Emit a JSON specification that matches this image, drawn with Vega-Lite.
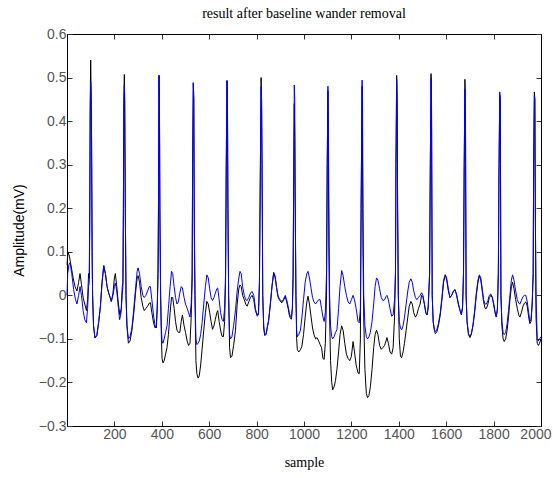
{
  "$schema": "https://vega.github.io/schema/vega-lite/v6.json",
  "width": 474,
  "height": 392,
  "autosize": "none",
  "padding": {"left": 67, "top": 34, "right": 12, "bottom": 52},
  "background": "white",
  "title": {"text": "result after baseline wander removal", "font": "Liberation Serif", "fontSize": 14, "fontWeight": "normal", "color": "#000", "offset": 6},
  "config": {
    "view": {"stroke": "#000", "strokeWidth": 1},
    "axis": {"grid": false, "domainColor": "#000", "tickColor": "#333", "tickSize": -5, "labelFont": "Liberation Sans", "labelFontSize": 14, "labelColor": "#555", "titleColor": "#000", "titleFontWeight": "normal", "labelOverlap": false, "labelBound": false}
  },
  "datasets": {
    "black": [
      {"sample":0,"mV":0.07},{"sample":4,"mV":0.10},{"sample":10,"mV":0.09},{"sample":18,"mV":0.065},{"sample":26,"mV":0.04},{"sample":34,"mV":0.02},{"sample":42,"mV":0.01},{"sample":49,"mV":0.03},{"sample":55,"mV":0.05},{"sample":61,"mV":0.025},{"sample":68,"mV":-0.005},{"sample":75,"mV":-0.02},{"sample":82,"mV":-0.035},{"sample":87,"mV":-0.01},{"sample":91,"mV":0.05},{"sample":94,"mV":0.04},
      {"sample":96,"mV":0.2},{"sample":98,"mV":0.45},{"sample":100,"mV":0.54},{"sample":102,"mV":0.45},{"sample":104,"mV":0.35},{"sample":106,"mV":0.1},{"sample":108,"mV":0.0},{"sample":112,"mV":-0.07},{"sample":118,"mV":-0.098},{"sample":126,"mV":-0.092},{"sample":134,"mV":-0.06},{"sample":141,"mV":-0.025},{"sample":148,"mV":0.03},{"sample":155,"mV":0.068},{"sample":162,"mV":0.05},{"sample":169,"mV":0.02},{"sample":176,"mV":0.005},{"sample":182,"mV":-0.005},{"sample":187,"mV":-0.014},{"sample":194,"mV":0.005},{"sample":200,"mV":0.04},{"sample":204,"mV":0.05},{"sample":210,"mV":0.02},{"sample":217,"mV":-0.02},{"sample":223,"mV":-0.045},{"sample":229,"mV":-0.03},{"sample":233,"mV":0.02},{"sample":236,"mV":0.03},
      {"sample":238,"mV":0.2},{"sample":240,"mV":0.45},{"sample":242,"mV":0.507},{"sample":244,"mV":0.37},{"sample":246,"mV":0.2},{"sample":249,"mV":0.0},{"sample":253,"mV":-0.07},{"sample":259,"mV":-0.11},{"sample":266,"mV":-0.105},{"sample":274,"mV":-0.08},{"sample":282,"mV":-0.04},{"sample":290,"mV":0.01},{"sample":296,"mV":0.04},{"sample":300,"mV":0.045},{"sample":306,"mV":0.03},{"sample":313,"mV":-0.005},{"sample":320,"mV":-0.025},{"sample":326,"mV":-0.035},{"sample":333,"mV":-0.03},{"sample":340,"mV":-0.025},{"sample":347,"mV":-0.018},{"sample":352,"mV":-0.017},{"sample":358,"mV":-0.04},{"sample":366,"mV":-0.065},{"sample":372,"mV":-0.075},{"sample":377,"mV":-0.07},{"sample":381,"mV":-0.02},{"sample":384,"mV":0.05},
      {"sample":386,"mV":0.2},{"sample":388,"mV":0.505},{"sample":390,"mV":0.45},{"sample":392,"mV":0.18},{"sample":395,"mV":0.0},{"sample":398,"mV":-0.09},{"sample":401,"mV":-0.145},{"sample":405,"mV":-0.155},{"sample":410,"mV":-0.15},{"sample":416,"mV":-0.135},{"sample":422,"mV":-0.12},{"sample":428,"mV":-0.09},{"sample":435,"mV":-0.04},{"sample":441,"mV":-0.005},{"sample":446,"mV":-0.005},{"sample":452,"mV":-0.03},{"sample":458,"mV":-0.06},{"sample":464,"mV":-0.08},{"sample":470,"mV":-0.085},{"sample":476,"mV":-0.085},{"sample":482,"mV":-0.06},{"sample":487,"mV":-0.045},{"sample":494,"mV":-0.07},{"sample":500,"mV":-0.085},{"sample":507,"mV":-0.105},{"sample":513,"mV":-0.115},{"sample":519,"mV":-0.11},{"sample":524,"mV":-0.05},{"sample":528,"mV":0.03},
      {"sample":530,"mV":0.3},{"sample":533,"mV":0.488},{"sample":535,"mV":0.45},{"sample":537,"mV":0.15},{"sample":540,"mV":0.0},{"sample":544,"mV":-0.15},{"sample":548,"mV":-0.18},{"sample":553,"mV":-0.19},{"sample":558,"mV":-0.185},{"sample":564,"mV":-0.16},{"sample":570,"mV":-0.124},{"sample":577,"mV":-0.08},{"sample":584,"mV":-0.04},{"sample":590,"mV":-0.014},{"sample":596,"mV":-0.02},{"sample":602,"mV":-0.04},{"sample":608,"mV":-0.06},{"sample":614,"mV":-0.078},{"sample":620,"mV":-0.07},{"sample":626,"mV":-0.055},{"sample":632,"mV":-0.04},{"sample":636,"mV":-0.035},{"sample":642,"mV":-0.06},{"sample":648,"mV":-0.08},{"sample":654,"mV":-0.094},{"sample":660,"mV":-0.095},{"sample":665,"mV":-0.06},{"sample":669,"mV":0.03},
      {"sample":672,"mV":0.3},{"sample":675,"mV":0.493},{"sample":677,"mV":0.45},{"sample":679,"mV":0.2},{"sample":682,"mV":0.0},{"sample":686,"mV":-0.12},{"sample":690,"mV":-0.143},{"sample":696,"mV":-0.14},{"sample":703,"mV":-0.115},{"sample":711,"mV":-0.08},{"sample":718,"mV":-0.02},{"sample":725,"mV":0.015},{"sample":730,"mV":0.024},{"sample":735,"mV":0.02},{"sample":741,"mV":0.0},{"sample":748,"mV":-0.01},{"sample":754,"mV":-0.02},{"sample":760,"mV":-0.025},{"sample":767,"mV":-0.015},{"sample":774,"mV":-0.005},{"sample":781,"mV":0.0},{"sample":788,"mV":-0.01},{"sample":795,"mV":-0.035},{"sample":802,"mV":-0.045},{"sample":808,"mV":-0.04},{"sample":812,"mV":0.03},
      {"sample":816,"mV":0.3},{"sample":819,"mV":0.50},{"sample":821,"mV":0.45},{"sample":823,"mV":0.29},{"sample":826,"mV":0.0},{"sample":830,"mV":-0.075},{"sample":834,"mV":-0.092},{"sample":840,"mV":-0.09},{"sample":846,"mV":-0.072},{"sample":851,"mV":-0.058},{"sample":858,"mV":-0.02},{"sample":865,"mV":0.02},{"sample":872,"mV":0.05},{"sample":878,"mV":0.042},{"sample":884,"mV":0.018},{"sample":890,"mV":-0.003},{"sample":896,"mV":-0.01},{"sample":902,"mV":-0.015},{"sample":907,"mV":-0.017},{"sample":913,"mV":-0.012},{"sample":918,"mV":-0.006},{"sample":921,"mV":-0.003},{"sample":927,"mV":-0.015},{"sample":933,"mV":-0.03},{"sample":938,"mV":-0.045},{"sample":942,"mV":-0.052},{"sample":947,"mV":-0.055},{"sample":951,"mV":-0.03},{"sample":954,"mV":0.04},
      {"sample":957,"mV":0.3},{"sample":959,"mV":0.44},{"sample":961,"mV":0.36},{"sample":963,"mV":0.2},{"sample":966,"mV":0.0},{"sample":969,"mV":-0.1},{"sample":972,"mV":-0.125},{"sample":978,"mV":-0.13},{"sample":985,"mV":-0.125},{"sample":991,"mV":-0.117},{"sample":998,"mV":-0.09},{"sample":1005,"mV":-0.05},{"sample":1012,"mV":-0.015},{"sample":1017,"mV":-0.002},{"sample":1023,"mV":-0.02},{"sample":1030,"mV":-0.05},{"sample":1036,"mV":-0.075},{"sample":1042,"mV":-0.09},{"sample":1049,"mV":-0.1},{"sample":1055,"mV":-0.097},{"sample":1062,"mV":-0.105},{"sample":1068,"mV":-0.113},{"sample":1074,"mV":-0.12},{"sample":1080,"mV":-0.145},{"sample":1085,"mV":-0.147},{"sample":1090,"mV":-0.11},{"sample":1095,"mV":0.0},
      {"sample":1098,"mV":0.3},{"sample":1101,"mV":0.47},{"sample":1103,"mV":0.3},{"sample":1105,"mV":0.1},{"sample":1108,"mV":-0.05},{"sample":1112,"mV":-0.15},{"sample":1117,"mV":-0.2},{"sample":1121,"mV":-0.217},{"sample":1127,"mV":-0.21},{"sample":1133,"mV":-0.195},{"sample":1139,"mV":-0.17},{"sample":1146,"mV":-0.13},{"sample":1152,"mV":-0.09},{"sample":1159,"mV":-0.07},{"sample":1165,"mV":-0.08},{"sample":1172,"mV":-0.11},{"sample":1179,"mV":-0.135},{"sample":1186,"mV":-0.145},{"sample":1193,"mV":-0.15},{"sample":1200,"mV":-0.14},{"sample":1207,"mV":-0.106},{"sample":1213,"mV":-0.13},{"sample":1220,"mV":-0.16},{"sample":1228,"mV":-0.178},{"sample":1233,"mV":-0.18},{"sample":1238,"mV":-0.1},
      {"sample":1241,"mV":0.2},{"sample":1245,"mV":0.48},{"sample":1247,"mV":0.3},{"sample":1249,"mV":0.1},{"sample":1252,"mV":-0.05},{"sample":1257,"mV":-0.17},{"sample":1263,"mV":-0.225},{"sample":1268,"mV":-0.235},{"sample":1274,"mV":-0.23},{"sample":1280,"mV":-0.21},{"sample":1287,"mV":-0.17},{"sample":1294,"mV":-0.12},{"sample":1300,"mV":-0.09},{"sample":1306,"mV":-0.08},{"sample":1312,"mV":-0.09},{"sample":1319,"mV":-0.115},{"sample":1326,"mV":-0.124},{"sample":1333,"mV":-0.12},{"sample":1340,"mV":-0.115},{"sample":1346,"mV":-0.105},{"sample":1350,"mV":-0.097},{"sample":1356,"mV":-0.11},{"sample":1363,"mV":-0.13},{"sample":1370,"mV":-0.135},{"sample":1376,"mV":-0.12},{"sample":1382,"mV":-0.05},{"sample":1386,"mV":0.05},
      {"sample":1388,"mV":0.3},{"sample":1391,"mV":0.505},{"sample":1393,"mV":0.45},{"sample":1395,"mV":0.2},{"sample":1398,"mV":0.0},{"sample":1402,"mV":-0.1},{"sample":1407,"mV":-0.14},{"sample":1412,"mV":-0.143},{"sample":1418,"mV":-0.13},{"sample":1424,"mV":-0.11},{"sample":1431,"mV":-0.08},{"sample":1438,"mV":-0.05},{"sample":1444,"mV":-0.025},{"sample":1451,"mV":-0.014},{"sample":1457,"mV":-0.02},{"sample":1463,"mV":-0.04},{"sample":1470,"mV":-0.05},{"sample":1476,"mV":-0.045},{"sample":1483,"mV":-0.03},{"sample":1490,"mV":-0.02},{"sample":1496,"mV":0.0},{"sample":1502,"mV":-0.005},{"sample":1508,"mV":-0.02},{"sample":1514,"mV":-0.04},{"sample":1519,"mV":-0.045},{"sample":1524,"mV":-0.03},{"sample":1530,"mV":0.05},
      {"sample":1533,"mV":0.3},{"sample":1536,"mV":0.509},{"sample":1538,"mV":0.45},{"sample":1541,"mV":0.0},{"sample":1545,"mV":-0.06},{"sample":1550,"mV":-0.08},{"sample":1554,"mV":-0.088},{"sample":1560,"mV":-0.085},{"sample":1567,"mV":-0.07},{"sample":1575,"mV":-0.045},{"sample":1582,"mV":-0.01},{"sample":1589,"mV":0.03},{"sample":1596,"mV":0.047},{"sample":1602,"mV":0.035},{"sample":1609,"mV":0.01},{"sample":1616,"mV":-0.005},{"sample":1623,"mV":0.0},{"sample":1630,"mV":0.008},{"sample":1637,"mV":0.013},{"sample":1644,"mV":0.0},{"sample":1651,"mV":-0.02},{"sample":1658,"mV":-0.035},{"sample":1664,"mV":-0.045},{"sample":1669,"mV":-0.03},{"sample":1673,"mV":0.05},
      {"sample":1676,"mV":0.3},{"sample":1679,"mV":0.496},{"sample":1681,"mV":0.45},{"sample":1684,"mV":0.0},{"sample":1688,"mV":-0.06},{"sample":1694,"mV":-0.09},{"sample":1700,"mV":-0.097},{"sample":1706,"mV":-0.09},{"sample":1713,"mV":-0.07},{"sample":1720,"mV":-0.04},{"sample":1727,"mV":0.0},{"sample":1734,"mV":0.03},{"sample":1740,"mV":0.045},{"sample":1746,"mV":0.035},{"sample":1752,"mV":0.01},{"sample":1758,"mV":-0.015},{"sample":1764,"mV":-0.03},{"sample":1770,"mV":-0.03},{"sample":1776,"mV":-0.02},{"sample":1782,"mV":-0.005},{"sample":1788,"mV":0.0},{"sample":1794,"mV":-0.005},{"sample":1800,"mV":-0.02},{"sample":1806,"mV":-0.04},{"sample":1811,"mV":-0.05},{"sample":1816,"mV":-0.035},{"sample":1820,"mV":0.05},
      {"sample":1823,"mV":0.3},{"sample":1826,"mV":0.46},{"sample":1828,"mV":0.45},{"sample":1831,"mV":0.0},{"sample":1835,"mV":-0.07},{"sample":1840,"mV":-0.1},{"sample":1845,"mV":-0.106},{"sample":1851,"mV":-0.1},{"sample":1857,"mV":-0.08},{"sample":1863,"mV":-0.05},{"sample":1869,"mV":-0.01},{"sample":1875,"mV":0.02},{"sample":1880,"mV":0.03},{"sample":1886,"mV":0.015},{"sample":1893,"mV":-0.01},{"sample":1900,"mV":-0.03},{"sample":1906,"mV":-0.045},{"sample":1911,"mV":-0.05},{"sample":1917,"mV":-0.04},{"sample":1924,"mV":-0.025},{"sample":1930,"mV":-0.018},{"sample":1936,"mV":-0.015},{"sample":1942,"mV":-0.025},{"sample":1948,"mV":-0.05},{"sample":1953,"mV":-0.065},{"sample":1958,"mV":-0.06},{"sample":1963,"mV":-0.02},{"sample":1967,"mV":0.05},
      {"sample":1969,"mV":0.3},{"sample":1972,"mV":0.467},{"sample":1974,"mV":0.45},{"sample":1976,"mV":0.2},{"sample":1979,"mV":-0.05},{"sample":1984,"mV":-0.11},{"sample":1989,"mV":-0.115},{"sample":1994,"mV":-0.11},{"sample":2000,"mV":-0.1}
    ],
    "blue": [
      {"sample":0,"mV":0.0},{"sample":3,"mV":0.05},{"sample":8,"mV":0.07},{"sample":13,"mV":0.075},{"sample":20,"mV":0.05},{"sample":28,"mV":0.013},{"sample":36,"mV":-0.01},{"sample":42,"mV":-0.02},{"sample":49,"mV":0.0},{"sample":55,"mV":0.02},{"sample":61,"mV":0.0},{"sample":68,"mV":-0.035},{"sample":75,"mV":-0.056},{"sample":82,"mV":-0.063},{"sample":87,"mV":-0.03},{"sample":91,"mV":0.02},{"sample":94,"mV":0.03},
      {"sample":96,"mV":0.15},{"sample":98,"mV":0.42},{"sample":100,"mV":0.49},{"sample":102,"mV":0.46},{"sample":104,"mV":0.3},{"sample":106,"mV":0.1},{"sample":108,"mV":0.0},{"sample":112,"mV":-0.07},{"sample":118,"mV":-0.098},{"sample":126,"mV":-0.092},{"sample":134,"mV":-0.06},{"sample":141,"mV":-0.025},{"sample":148,"mV":0.03},{"sample":155,"mV":0.068},{"sample":162,"mV":0.05},{"sample":169,"mV":0.02},{"sample":176,"mV":0.005},{"sample":182,"mV":-0.005},{"sample":187,"mV":-0.014},{"sample":194,"mV":0.0},{"sample":200,"mV":0.02},{"sample":204,"mV":0.028},{"sample":210,"mV":0.01},{"sample":217,"mV":-0.03},{"sample":222,"mV":-0.056},{"sample":228,"mV":-0.04},{"sample":233,"mV":0.0},{"sample":236,"mV":0.02},
      {"sample":238,"mV":0.2},{"sample":240,"mV":0.45},{"sample":242,"mV":0.483},{"sample":244,"mV":0.45},{"sample":246,"mV":0.2},{"sample":249,"mV":0.0},{"sample":253,"mV":-0.07},{"sample":259,"mV":-0.1},{"sample":266,"mV":-0.095},{"sample":274,"mV":-0.075},{"sample":282,"mV":-0.03},{"sample":290,"mV":0.02},{"sample":296,"mV":0.055},{"sample":300,"mV":0.063},{"sample":306,"mV":0.05},{"sample":313,"mV":0.02},{"sample":320,"mV":0.0},{"sample":326,"mV":-0.005},{"sample":333,"mV":0.0},{"sample":340,"mV":0.01},{"sample":347,"mV":0.02},{"sample":352,"mV":0.02},{"sample":358,"mV":-0.01},{"sample":366,"mV":-0.05},{"sample":372,"mV":-0.07},{"sample":377,"mV":-0.075},{"sample":381,"mV":-0.03},{"sample":384,"mV":0.05},
      {"sample":386,"mV":0.2},{"sample":388,"mV":0.505},{"sample":390,"mV":0.45},{"sample":392,"mV":0.2},{"sample":395,"mV":0.0},{"sample":398,"mV":-0.07},{"sample":401,"mV":-0.105},{"sample":405,"mV":-0.11},{"sample":410,"mV":-0.1},{"sample":416,"mV":-0.085},{"sample":422,"mV":-0.07},{"sample":428,"mV":-0.03},{"sample":435,"mV":0.02},{"sample":441,"mV":0.055},{"sample":446,"mV":0.05},{"sample":452,"mV":0.02},{"sample":458,"mV":-0.005},{"sample":464,"mV":-0.02},{"sample":470,"mV":-0.015},{"sample":476,"mV":0.005},{"sample":482,"mV":0.02},{"sample":487,"mV":0.017},{"sample":494,"mV":-0.005},{"sample":500,"mV":-0.02},{"sample":507,"mV":-0.03},{"sample":513,"mV":-0.04},{"sample":519,"mV":-0.05},{"sample":524,"mV":-0.02},{"sample":528,"mV":0.05},
      {"sample":530,"mV":0.3},{"sample":533,"mV":0.488},{"sample":535,"mV":0.45},{"sample":537,"mV":0.2},{"sample":540,"mV":0.0},{"sample":544,"mV":-0.1},{"sample":548,"mV":-0.113},{"sample":553,"mV":-0.11},{"sample":558,"mV":-0.105},{"sample":564,"mV":-0.09},{"sample":570,"mV":-0.063},{"sample":577,"mV":-0.02},{"sample":584,"mV":0.02},{"sample":590,"mV":0.047},{"sample":596,"mV":0.04},{"sample":602,"mV":0.015},{"sample":608,"mV":-0.005},{"sample":614,"mV":-0.012},{"sample":620,"mV":-0.005},{"sample":626,"mV":0.005},{"sample":632,"mV":0.015},{"sample":636,"mV":0.017},{"sample":642,"mV":-0.01},{"sample":648,"mV":-0.04},{"sample":654,"mV":-0.055},{"sample":660,"mV":-0.06},{"sample":665,"mV":-0.03},{"sample":669,"mV":0.05},
      {"sample":672,"mV":0.3},{"sample":675,"mV":0.493},{"sample":677,"mV":0.45},{"sample":679,"mV":0.2},{"sample":682,"mV":0.0},{"sample":686,"mV":-0.09},{"sample":690,"mV":-0.1},{"sample":696,"mV":-0.095},{"sample":703,"mV":-0.07},{"sample":711,"mV":-0.033},{"sample":718,"mV":0.01},{"sample":725,"mV":0.04},{"sample":730,"mV":0.055},{"sample":735,"mV":0.05},{"sample":741,"mV":0.02},{"sample":748,"mV":0.0},{"sample":754,"mV":-0.01},{"sample":760,"mV":-0.012},{"sample":767,"mV":-0.005},{"sample":774,"mV":0.005},{"sample":781,"mV":0.009},{"sample":788,"mV":0.0},{"sample":795,"mV":-0.03},{"sample":802,"mV":-0.048},{"sample":808,"mV":-0.045},{"sample":812,"mV":0.03},
      {"sample":816,"mV":0.3},{"sample":819,"mV":0.479},{"sample":821,"mV":0.45},{"sample":823,"mV":0.3},{"sample":826,"mV":0.0},{"sample":830,"mV":-0.07},{"sample":834,"mV":-0.09},{"sample":840,"mV":-0.088},{"sample":846,"mV":-0.07},{"sample":851,"mV":-0.056},{"sample":858,"mV":-0.02},{"sample":865,"mV":0.022},{"sample":872,"mV":0.053},{"sample":878,"mV":0.045},{"sample":884,"mV":0.02},{"sample":890,"mV":0.0},{"sample":896,"mV":-0.008},{"sample":902,"mV":-0.012},{"sample":907,"mV":-0.014},{"sample":913,"mV":-0.01},{"sample":918,"mV":-0.003},{"sample":921,"mV":0.0},{"sample":927,"mV":-0.01},{"sample":933,"mV":-0.025},{"sample":938,"mV":-0.04},{"sample":942,"mV":-0.048},{"sample":947,"mV":-0.05},{"sample":951,"mV":-0.03},{"sample":954,"mV":0.05},
      {"sample":957,"mV":0.3},{"sample":959,"mV":0.483},{"sample":961,"mV":0.45},{"sample":963,"mV":0.2},{"sample":966,"mV":0.0},{"sample":969,"mV":-0.08},{"sample":972,"mV":-0.095},{"sample":978,"mV":-0.09},{"sample":985,"mV":-0.08},{"sample":991,"mV":-0.052},{"sample":998,"mV":-0.01},{"sample":1005,"mV":0.03},{"sample":1012,"mV":0.05},{"sample":1017,"mV":0.055},{"sample":1023,"mV":0.04},{"sample":1030,"mV":0.015},{"sample":1036,"mV":-0.005},{"sample":1042,"mV":-0.015},{"sample":1049,"mV":-0.02},{"sample":1055,"mV":-0.015},{"sample":1062,"mV":-0.01},{"sample":1068,"mV":-0.01},{"sample":1074,"mV":-0.03},{"sample":1080,"mV":-0.05},{"sample":1085,"mV":-0.06},{"sample":1090,"mV":-0.04},{"sample":1095,"mV":0.05},
      {"sample":1098,"mV":0.3},{"sample":1101,"mV":0.48},{"sample":1103,"mV":0.4},{"sample":1105,"mV":0.2},{"sample":1108,"mV":0.0},{"sample":1112,"mV":-0.07},{"sample":1117,"mV":-0.095},{"sample":1121,"mV":-0.1},{"sample":1127,"mV":-0.095},{"sample":1133,"mV":-0.085},{"sample":1139,"mV":-0.079},{"sample":1146,"mV":-0.03},{"sample":1152,"mV":0.02},{"sample":1159,"mV":0.057},{"sample":1165,"mV":0.045},{"sample":1172,"mV":0.02},{"sample":1179,"mV":0.0},{"sample":1186,"mV":-0.015},{"sample":1193,"mV":-0.02},{"sample":1200,"mV":-0.01},{"sample":1207,"mV":0.0},{"sample":1213,"mV":-0.01},{"sample":1220,"mV":-0.03},{"sample":1228,"mV":-0.06},{"sample":1233,"mV":-0.063},{"sample":1238,"mV":-0.03},
      {"sample":1241,"mV":0.2},{"sample":1245,"mV":0.494},{"sample":1247,"mV":0.45},{"sample":1249,"mV":0.2},{"sample":1252,"mV":0.0},{"sample":1257,"mV":-0.07},{"sample":1263,"mV":-0.095},{"sample":1268,"mV":-0.1},{"sample":1274,"mV":-0.095},{"sample":1280,"mV":-0.085},{"sample":1287,"mV":-0.06},{"sample":1294,"mV":-0.02},{"sample":1300,"mV":0.02},{"sample":1306,"mV":0.04},{"sample":1312,"mV":0.035},{"sample":1319,"mV":0.015},{"sample":1326,"mV":-0.005},{"sample":1333,"mV":-0.012},{"sample":1340,"mV":-0.01},{"sample":1346,"mV":-0.003},{"sample":1350,"mV":0.0},{"sample":1356,"mV":-0.01},{"sample":1363,"mV":-0.03},{"sample":1370,"mV":-0.048},{"sample":1376,"mV":-0.045},{"sample":1382,"mV":-0.01},{"sample":1386,"mV":0.05},
      {"sample":1388,"mV":0.3},{"sample":1391,"mV":0.496},{"sample":1393,"mV":0.45},{"sample":1395,"mV":0.2},{"sample":1398,"mV":0.0},{"sample":1402,"mV":-0.06},{"sample":1407,"mV":-0.075},{"sample":1412,"mV":-0.079},{"sample":1418,"mV":-0.07},{"sample":1424,"mV":-0.05},{"sample":1431,"mV":-0.02},{"sample":1438,"mV":0.01},{"sample":1444,"mV":0.03},{"sample":1451,"mV":0.038},{"sample":1457,"mV":0.03},{"sample":1463,"mV":0.01},{"sample":1470,"mV":-0.005},{"sample":1476,"mV":-0.01},{"sample":1483,"mV":-0.005},{"sample":1490,"mV":0.0},{"sample":1496,"mV":0.006},{"sample":1502,"mV":0.0},{"sample":1508,"mV":-0.02},{"sample":1514,"mV":-0.04},{"sample":1519,"mV":-0.045},{"sample":1524,"mV":-0.025},{"sample":1530,"mV":0.05},
      {"sample":1533,"mV":0.3},{"sample":1536,"mV":0.5},{"sample":1538,"mV":0.45},{"sample":1541,"mV":0.0},{"sample":1545,"mV":-0.06},{"sample":1550,"mV":-0.078},{"sample":1554,"mV":-0.083},{"sample":1560,"mV":-0.08},{"sample":1567,"mV":-0.065},{"sample":1575,"mV":-0.04},{"sample":1582,"mV":-0.005},{"sample":1589,"mV":0.035},{"sample":1596,"mV":0.047},{"sample":1602,"mV":0.04},{"sample":1609,"mV":0.015},{"sample":1616,"mV":-0.005},{"sample":1623,"mV":0.0},{"sample":1630,"mV":0.01},{"sample":1637,"mV":0.013},{"sample":1644,"mV":0.002},{"sample":1651,"mV":-0.018},{"sample":1658,"mV":-0.033},{"sample":1664,"mV":-0.042},{"sample":1669,"mV":-0.025},{"sample":1673,"mV":0.05},
      {"sample":1676,"mV":0.3},{"sample":1679,"mV":0.474},{"sample":1681,"mV":0.45},{"sample":1684,"mV":0.0},{"sample":1688,"mV":-0.06},{"sample":1694,"mV":-0.088},{"sample":1700,"mV":-0.094},{"sample":1706,"mV":-0.088},{"sample":1713,"mV":-0.068},{"sample":1720,"mV":-0.035},{"sample":1727,"mV":0.005},{"sample":1734,"mV":0.035},{"sample":1740,"mV":0.047},{"sample":1746,"mV":0.04},{"sample":1752,"mV":0.015},{"sample":1758,"mV":-0.01},{"sample":1764,"mV":-0.02},{"sample":1770,"mV":-0.02},{"sample":1776,"mV":-0.012},{"sample":1782,"mV":0.0},{"sample":1788,"mV":0.003},{"sample":1794,"mV":-0.003},{"sample":1800,"mV":-0.018},{"sample":1806,"mV":-0.038},{"sample":1811,"mV":-0.048},{"sample":1816,"mV":-0.03},{"sample":1820,"mV":0.05},
      {"sample":1823,"mV":0.3},{"sample":1826,"mV":0.467},{"sample":1828,"mV":0.45},{"sample":1831,"mV":0.0},{"sample":1835,"mV":-0.06},{"sample":1840,"mV":-0.085},{"sample":1845,"mV":-0.09},{"sample":1851,"mV":-0.085},{"sample":1857,"mV":-0.065},{"sample":1863,"mV":-0.035},{"sample":1869,"mV":0.0},{"sample":1875,"mV":0.035},{"sample":1880,"mV":0.047},{"sample":1886,"mV":0.035},{"sample":1893,"mV":0.01},{"sample":1900,"mV":-0.01},{"sample":1906,"mV":-0.018},{"sample":1911,"mV":-0.02},{"sample":1917,"mV":-0.012},{"sample":1924,"mV":-0.003},{"sample":1930,"mV":0.0},{"sample":1936,"mV":0.0},{"sample":1942,"mV":-0.015},{"sample":1948,"mV":-0.04},{"sample":1953,"mV":-0.06},{"sample":1958,"mV":-0.055},{"sample":1963,"mV":-0.015},{"sample":1967,"mV":0.05},
      {"sample":1969,"mV":0.3},{"sample":1972,"mV":0.458},{"sample":1974,"mV":0.45},{"sample":1976,"mV":0.2},{"sample":1979,"mV":0.0},{"sample":1984,"mV":-0.1},{"sample":1989,"mV":-0.105},{"sample":1994,"mV":-0.1},{"sample":2000,"mV":-0.095}
    ]
  },
  "layer": [
    {
      "data": {"name": "black"},
      "mark": {"type": "line", "color": "#000000", "strokeWidth": 1},
      "encoding": {
        "x": {"field": "sample", "type": "quantitative", "scale": {"domain": [0, 2000], "nice": false},
              "axis": {"orient": "bottom", "values": [200,400,600,800,1000,1200,1400,1600,1800,2000], "format": "d", "title": "sample", "titleFont": "Liberation Serif", "titleFontSize": 14, "titlePadding": 14, "labelPadding": 6, "labelFlush": true, "labelFlushOffset": 10}},
        "y": {"field": "mV", "type": "quantitative", "scale": {"domain": [-0.3, 0.6], "nice": false, "zero": false},
              "axis": {"orient": "left", "values": [-0.3,-0.2,-0.1,0,0.1,0.2,0.3,0.4,0.5,0.6], "labelExpr": "datum.value == 0 ? '0' : format(datum.value, '.1f')", "title": "Amplitude(mV)", "titleFont": "Liberation Sans", "titleFontSize": 14, "titlePadding": 12, "labelPadding": 6, "labelFlush": false}}
      }
    },
    {
      "data": {"name": "blue"},
      "mark": {"type": "line", "color": "#0000ff", "strokeWidth": 1},
      "encoding": {
        "x": {"field": "sample", "type": "quantitative", "scale": {"domain": [0, 2000], "nice": false},
              "axis": {"orient": "top", "values": [200,400,600,800,1000,1200,1400,1600,1800,2000], "labels": false, "title": null}},
        "y": {"field": "mV", "type": "quantitative", "scale": {"domain": [-0.3, 0.6], "nice": false, "zero": false},
              "axis": {"orient": "right", "values": [-0.3,-0.2,-0.1,0,0.1,0.2,0.3,0.4,0.5,0.6], "labels": false, "title": null}}
      }
    }
  ],
  "resolve": {"axis": {"x": "independent", "y": "independent"}}
}
